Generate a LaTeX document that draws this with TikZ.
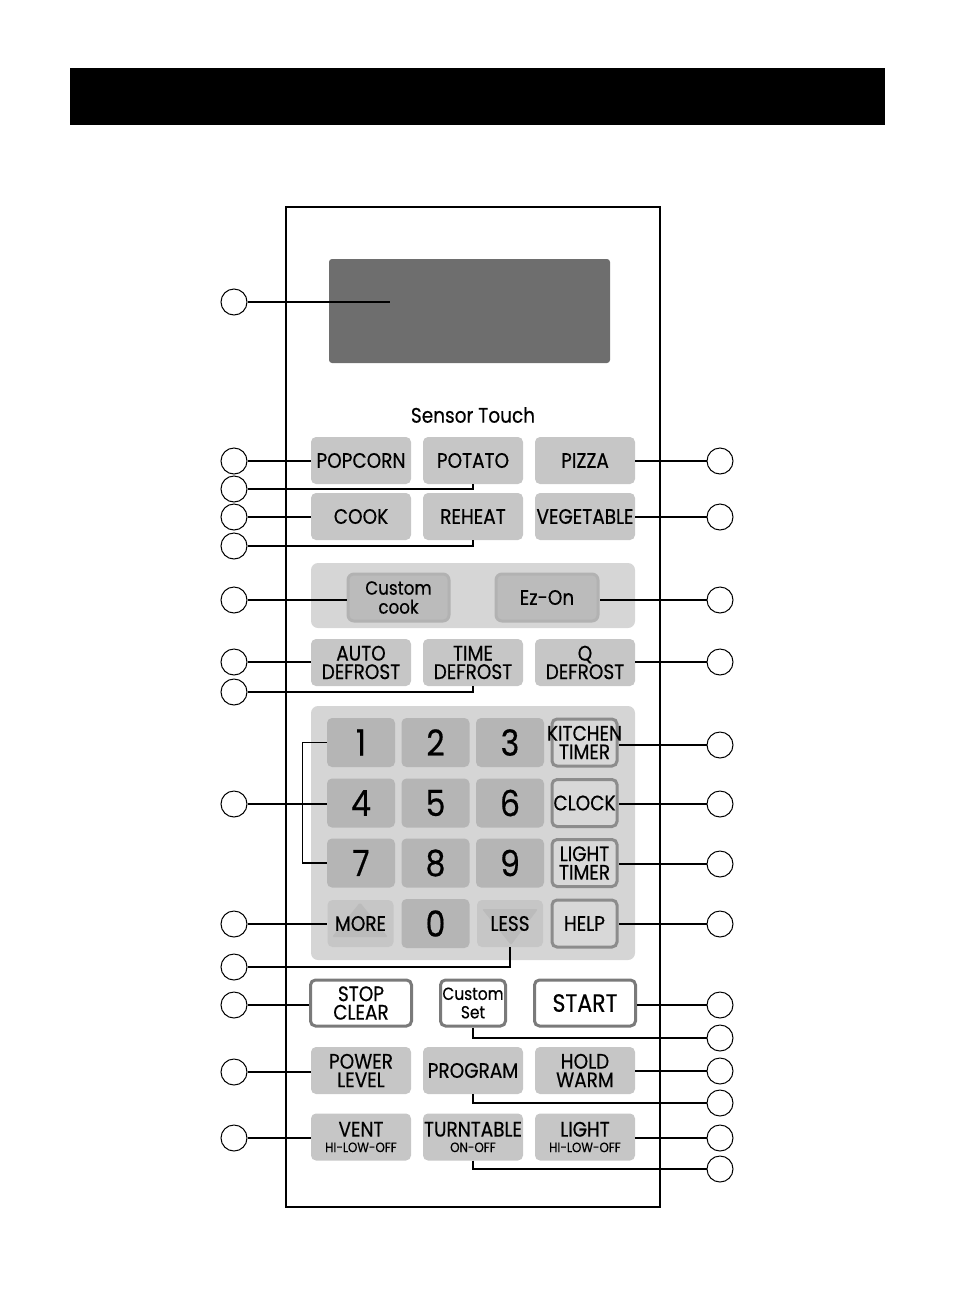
\documentclass[tikz,border=0pt]{standalone}
\usepackage{fontspec}
\setmainfont[FakeStretch=0.88,FakeBold=0.45]{Poppins}
\definecolor{btngray}{HTML}{C6C6C6}
\definecolor{grpgray}{HTML}{D6D6D6}
\definecolor{innergray}{HTML}{BBBBBB}
\definecolor{innerborder}{HTML}{B2B2B2}
\definecolor{keygray}{HTML}{B5B5B5}
\definecolor{padgray}{HTML}{D5D5D5}
\definecolor{fkeyfill}{HTML}{D8D8D8}
\definecolor{fkeyborder}{HTML}{8C8C8C}
\definecolor{sborder}{HTML}{7A7A7A}
\definecolor{dispgray}{HTML}{6E6E6E}
\definecolor{arrowkey}{HTML}{C6C6C6}
\definecolor{arrowtri}{HTML}{BBBBBB}
\tikzset{
  lab/.style={font=\fontsize{21}{18.5}\selectfont, align=center, inner sep=0pt},
  lowlab/.style={font=\fontsize{19}{19}\selectfont},
  btn/.style={lab, rounded corners=5pt, fill=btngray, minimum width=100pt, minimum height=47pt},
  inbtn/.style={lab, rounded corners=6pt, fill=innergray, draw=innerborder, line width=3pt, minimum width=100pt, minimum height=46pt},
  key/.style={rounded corners=5pt, fill=keygray, minimum width=68pt, minimum height=49pt, inner sep=0pt, font=\fontsize{36}{36}\selectfont},
  fkey/.style={lab, rounded corners=5pt, fill=fkeyfill, draw=fkeyborder, line width=3pt, minimum width=65pt, minimum height=47pt},
  akey/.style={lab, rounded corners=5pt, fill=arrowkey, minimum width=66pt, minimum height=47pt},
  sbtn/.style={lab, rounded corners=5pt, fill=white, draw=sborder, line width=3pt, minimum height=46pt},
  circ/.style={circle, draw, line width=1pt, minimum size=26pt, inner sep=0pt},
  lead/.style={line width=1.3pt},
  panel/.style={rounded corners=7pt, draw=none},
}
\newcommand{\smalltxt}[1]{{\fontsize{13.5}{13}\selectfont #1}}
\begin{document}
\begin{tikzpicture}[x=1pt,y=-1pt]
\useasboundingbox (0,0) rectangle (954,1307);
% header bar
\fill[black] (70,68) rectangle (885,125);
% panel
\draw[line width=1.5pt] (286,207) rectangle (660,1207);
% display
\node[fill=dispgray, rounded corners=3pt, minimum width=281pt, minimum height=104pt, inner sep=0pt] (disp) at (469.5,311) {};
\coordinate (dispend) at (390,302);
\node[font=\fontsize{21}{21}\selectfont, inner sep=0pt] (sensor) at (473,415) {Sensor Touch};
% sensor rows
\node[btn] (popcorn) at (361,460.5) {POPCORN};
\node[btn] (potato) at (473,460.5) {POTATO};
\node[btn] (pizza) at (585,460.5) {PIZZA};
\node[btn] (cook) at (361,516.5) {COOK};
\node[btn] (reheat) at (473,516.5) {REHEAT};
\node[btn] (veg) at (585,516.5) {VEGETABLE};
% custom group
\node[panel, fill=grpgray, minimum width=324pt, minimum height=65pt] (grp) at (473,595.5) {};
\node[inbtn, lowlab, minimum width=101pt, minimum height=47pt] (ccook) at (398.5,597.5) {Custom\\cook};
\node[inbtn, minimum width=102pt, minimum height=47pt] (ezon) at (547,597.5) {Ez-On};
% defrost row
\node[btn] (adef) at (361,662.5) {AUTO\\DEFROST};
\node[btn] (tdef) at (473,662.5) {TIME\\DEFROST};
\node[btn] (qdef) at (585,662.5) {Q\\DEFROST};
% keypad
\node[panel, fill=padgray, minimum width=324pt, minimum height=254pt] (pad) at (473,833) {};
\node[key] (k1) at (361,742.5) {1};
\node[key] (k2) at (435.5,742.5) {2};
\node[key] (k3) at (510,742.5) {3};
\node[key] (k4) at (361,803) {4};
\node[key] (k5) at (435.5,803) {5};
\node[key] (k6) at (510,803) {6};
\node[key] (k7) at (361,863) {7};
\node[key] (k8) at (435.5,863) {8};
\node[key] (k9) at (510,863) {9};
\node[key] (k0) at (435.5,923.5) {0};
\node[akey] (more) at (360.5,923.5) {};
\fill[arrowtri, rounded corners=2pt] (360,902.5) -- (388,937) -- (332,937) -- cycle;
\node[lab] at (more) {MORE};
\node[akey] (less) at (510,923.5) {};
\fill[arrowtri, rounded corners=2pt] (482,909) -- (538,909) -- (511,945) -- cycle;
\node[lab] at (less) {LESS};
\node[fkey] (ktimer) at (584.5,742.5) {};
\node[lab] at (ktimer) {KITCHEN\\TIMER};
\node[fkey] (clock) at (584.5,803) {CLOCK};
\node[fkey] (ltimer) at (584.5,863) {LIGHT\\TIMER};
\node[fkey] (help) at (584.5,923.5) {HELP};
% stop row
\node[sbtn, minimum width=101pt] (stop) at (361,1003) {STOP\\CLEAR};
\node[sbtn, minimum width=65pt, font=\fontsize{17.5}{18.5}\selectfont] (cset) at (473,1003) {Custom\\Set};
\node[sbtn, minimum width=101pt, font=\fontsize{25}{25}\selectfont] (start) at (585,1003) {START};
% power row
\node[btn] (power) at (361,1070.5) {POWER\\LEVEL};
\node[btn] (program) at (473,1070.5) {PROGRAM};
\node[btn] (hold) at (585,1070.5) {HOLD\\WARM};
% vent row
\node[btn] (vent) at (361,1137) {VENT\\[-3pt]\smalltxt{HI-LOW-OFF}};
\node[btn] (turn) at (473,1137) {TURNTABLE\\[-3pt]\smalltxt{ON-OFF}};
\node[btn] (light) at (585,1137) {LIGHT\\[-3pt]\smalltxt{HI-LOW-OFF}};
% left circles
\node[circ] (L1) at (234,302) {};
\node[circ] (L2) at (234,461) {};
\node[circ] (L3) at (234,489) {};
\node[circ] (L4) at (234,517) {};
\node[circ] (L5) at (234,546) {};
\node[circ] (L6) at (234,600) {};
\node[circ] (L7) at (234,662) {};
\node[circ] (L8) at (234,692) {};
\node[circ] (L9) at (234,804) {};
\node[circ] (L10) at (234,924) {};
\node[circ] (L11) at (234,967) {};
\node[circ] (L12) at (234,1005) {};
\node[circ] (L13) at (234,1072) {};
\node[circ] (L14) at (234,1138) {};
% right circles
\node[circ] (R1) at (720,461) {};
\node[circ] (R2) at (720,517) {};
\node[circ] (R3) at (720,600) {};
\node[circ] (R4) at (720,662) {};
\node[circ] (R5) at (720,745) {};
\node[circ] (R6) at (720,804) {};
\node[circ] (R7) at (720,864) {};
\node[circ] (R8) at (720,924) {};
\node[circ] (R9) at (720,1005) {};
\node[circ] (R10) at (720,1038) {};
\node[circ] (R11) at (720,1071) {};
\node[circ] (R12) at (720,1103) {};
\node[circ] (R13) at (720,1138) {};
\node[circ] (R14) at (720,1169) {};
% left leaders
\draw[lead] (L1) -- (dispend);
\draw[lead] (L2) -- (L2 -| popcorn.west);
\draw[lead] (L3) -| (potato.south);
\draw[lead] (L4) -- (L4 -| cook.west);
\draw[lead] (L5) -| (reheat.south);
\draw[lead] (L6) -- (L6 -| ccook.west);
\draw[lead] (L7) -- (L7 -| adef.west);
\draw[lead] (L8) -| (tdef.south);
\draw[lead] (k1.west) -- ++(-24,0) |- (k7.west);
\draw[lead] (L9) -- (L9 -| k4.west);
\draw[lead] (L10) -- (L10 -| more.west);
\draw[lead] (less.south) |- (L11);
\draw[lead] (L12) -- (L12 -| stop.west);
\draw[lead] (L13) -- (L13 -| power.west);
\draw[lead] (L14) -- (L14 -| vent.west);
% right leaders
\draw[lead] (R1) -- (R1 -| pizza.east);
\draw[lead] (R2) -- (R2 -| veg.east);
\draw[lead] (R3) -- (R3 -| ezon.east);
\draw[lead] (R4) -- (R4 -| qdef.east);
\draw[lead] (R5) -- (R5 -| ktimer.east);
\draw[lead] (R6) -- (R6 -| clock.east);
\draw[lead] (R7) -- (R7 -| ltimer.east);
\draw[lead] (R8) -- (R8 -| help.east);
\draw[lead] (R9) -- (R9 -| start.east);
\draw[lead] (cset.south) |- (R10);
\draw[lead] (R11) -- (R11 -| hold.east);
\draw[lead] (program.south) |- (R12);
\draw[lead] (R13) -- (R13 -| light.east);
\draw[lead] (turn.south) |- (R14);
\end{tikzpicture}
\end{document}
